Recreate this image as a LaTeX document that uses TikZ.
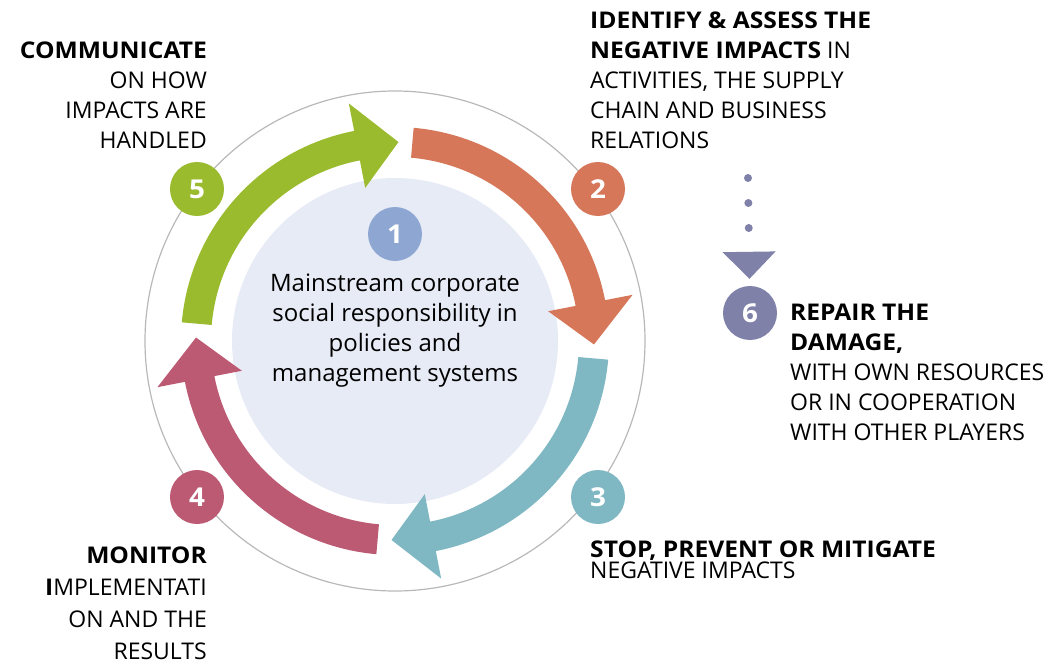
\documentclass[tikz,border=0pt]{standalone}
\usepackage{fontspec}
\setmainfont{Open Sans}[BoldFeatures={FakeStretch=1.07}]
\usetikzlibrary{arrows.meta}

\definecolor{identifyorange}{HTML}{D6775A}
\definecolor{stopteal}{HTML}{7FB8C3}
\definecolor{monitorpink}{HTML}{BC5A74}
\definecolor{communicategreen}{HTML}{9BBB2F}
\definecolor{coreblue}{HTML}{8EA7D2}
\definecolor{corefill}{HTML}{E7EBF6}
\definecolor{repairviolet}{HTML}{8081A9}
\definecolor{ringgrey}{HTML}{B8B8B8}

\begin{document}
\begin{tikzpicture}
[
    x=1pt, y=1pt,
    badge/.style={circle, minimum size=54pt, inner sep=0pt, text=white,
        font=\fontsize{26}{28}\selectfont\bfseries},
    caption/.style={inner sep=0pt, font=\fontsize{23}{30}\selectfont},
]
\useasboundingbox (-395,-323) rectangle (656,341);

% outer ring and centre disk
\draw[ringgrey, line width=1.2pt] (0,0) circle[radius=250pt];
\fill[corefill] (0,0) circle[radius=163pt];

% the four curved arrows, clockwise
\fill[communicategreen] (175:214) arc[start angle=175, end angle=101, radius=214pt]
    -- (101:242) -- (89:199) -- (101:156) -- (101:184)
    arc[start angle=101, end angle=175, radius=184pt] -- cycle;
\fill[identifyorange] (85:214) arc[start angle=85, end angle=11, radius=214pt]
    -- (11:242) -- (-1:199) -- (11:156) -- (11:184)
    arc[start angle=11, end angle=85, radius=184pt] -- cycle;
\fill[stopteal] (-5:214) arc[start angle=-5, end angle=-79, radius=214pt]
    -- (-79:242) -- (-91:199) -- (-79:156) -- (-79:184)
    arc[start angle=-79, end angle=-5, radius=184pt] -- cycle;
\fill[monitorpink] (-95:214) arc[start angle=-95, end angle=-169, radius=214pt]
    -- (-169:242) -- (-181:199) -- (-169:156) -- (-169:184)
    arc[start angle=-169, end angle=-95, radius=184pt] -- cycle;

% numbered badges
\node[badge, fill=coreblue] (n1) at (0,107) {1};
\node[badge, fill=identifyorange] (n2) at (203,152) {2};
\node[badge, fill=stopteal] (n3) at (203,-156) {3};
\node[badge, fill=monitorpink] (n4) at (-198,-156) {4};
\node[badge, fill=communicategreen] (n5) at (-198,152) {5};
\node[badge, fill=repairviolet] (n6) at (355,28) {6};

% dotted pointer down to step 6
\coordinate (dots) at (353,163);
\draw[repairviolet, line width=8pt, line cap=round, dash pattern=on 0pt off 25pt,
    -{Triangle[width=53pt, length=27pt, line width=0pt]}, shorten >=7pt] (dots) -- (n6);

% texts
\node[caption, align=center, anchor=north, font=\fontsize{24}{30}\selectfont] (core) at (0,67)
    {Mainstream corporate\\social responsibility in\\policies and\\management systems};
\node[caption, align=left, anchor=north west] (identify) at (195,329)
    {\textbf{IDENTIFY \& ASSESS THE}\\\textbf{NEGATIVE IMPACTS} IN\\ACTIVITIES, THE SUPPLY\\CHAIN AND BUSINESS\\RELATIONS};
\node[caption, align=left, anchor=north west] (repair) at (395,37)
    {\textbf{REPAIR THE}\\\textbf{DAMAGE,}\\WITH OWN RESOURCES\\OR IN COOPERATION\\WITH OTHER PLAYERS};
\node[caption, align=left, anchor=north west, font=\fontsize{23}{21}\selectfont] (stop) at (195,-200)
    {\textbf{STOP, PREVENT OR MITIGATE}\\NEGATIVE IMPACTS};
\node[caption, align=right, anchor=north east, font=\fontsize{23}{32}\selectfont] (monitor) at (-188,-206)
    {\textbf{MONITOR}\\\textbf{I}MPLEMENTATI\\ON AND THE\\RESULTS};
\node[caption, align=right, anchor=north east] (communicate) at (-188,299)
    {\textbf{COMMUNICATE}\\ON HOW\\IMPACTS ARE\\HANDLED};
\end{tikzpicture}
\end{document}
